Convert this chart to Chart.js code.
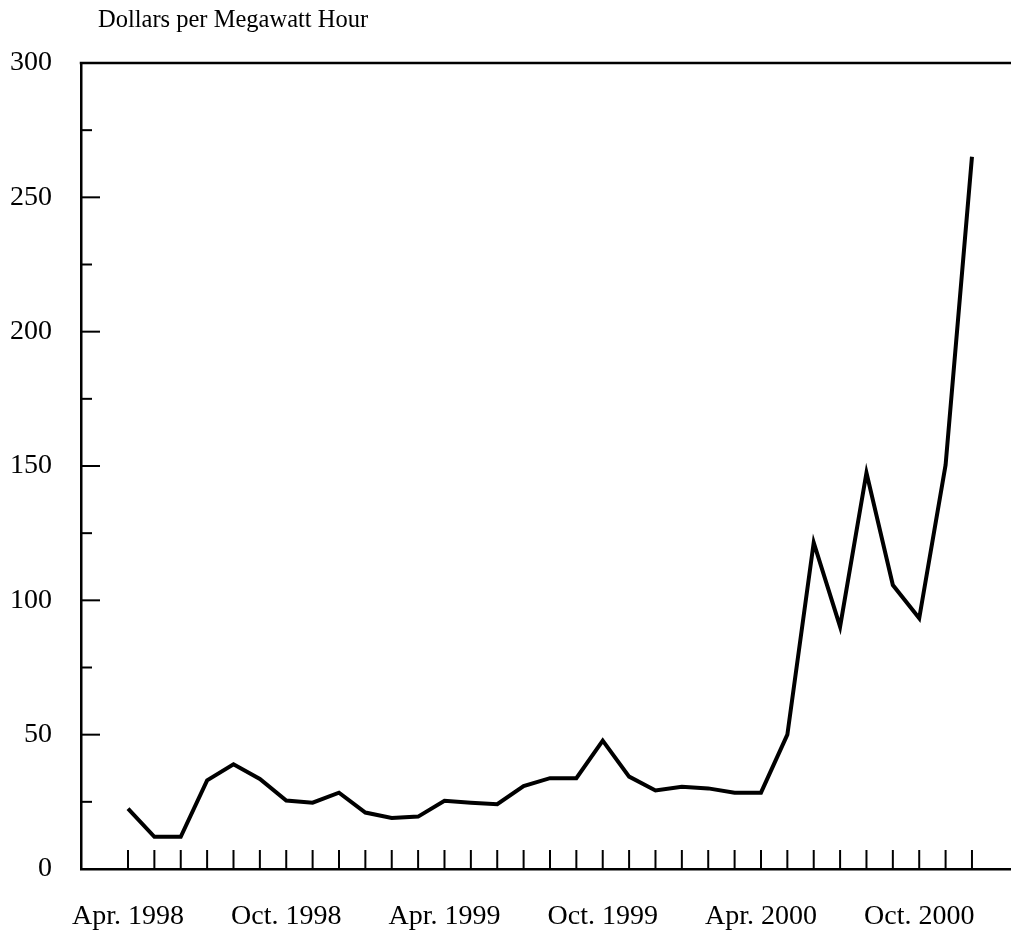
<!DOCTYPE html>
<html>
<head>
<meta charset="utf-8">
<script src="https://cdn.jsdelivr.net/npm/chart.js@4"></script>
<style>
  html, body { margin: 0; padding: 0; background: #ffffff; }
  #wrap { width: 1011px; height: 932px; position: relative; }
</style>
</head>
<body>
<div id="wrap"><canvas id="c"></canvas></div>
<script>
const months = [
  'Apr. 1998','May 1998','Jun. 1998','Jul. 1998','Aug. 1998','Sep. 1998','Oct. 1998','Nov. 1998','Dec. 1998',
  'Jan. 1999','Feb. 1999','Mar. 1999','Apr. 1999','May 1999','Jun. 1999','Jul. 1999','Aug. 1999','Sep. 1999','Oct. 1999','Nov. 1999','Dec. 1999',
  'Jan. 2000','Feb. 2000','Mar. 2000','Apr. 2000','May 2000','Jun. 2000','Jul. 2000','Aug. 2000','Sep. 2000','Oct. 2000','Nov. 2000','Dec. 2000'
];
const prices = [
  22.5, 12, 12, 33, 39, 33.5, 25.5, 24.7, 28.4,
  21, 19, 19.5, 25.4, 24.7, 24.1, 30.9, 33.8, 33.8, 47.8, 34.4, 29.2,
  30.6, 30, 28.4, 28.4, 50, 121.5, 90.2, 147.5, 105.7, 93.3, 150.4, 265.1
];
const xTickLabels = ['Apr. 1998', 'Oct. 1998', 'Apr. 1999', 'Oct. 1999', 'Apr. 2000', 'Oct. 2000'];
const yTickValues = [0, 25, 50, 75, 100, 125, 150, 175, 200, 225, 250, 275, 300];
const yLabelValues = [0, 50, 100, 150, 200, 250, 300];
const titleText = 'Dollars per Megawatt Hour';

const FONT = '"Liberation Serif", "Times New Roman", serif';

const framePlugin = {
  id: 'framePlugin',
  afterDraw(chart) {
    const ctx = chart.ctx;
    const a = chart.chartArea;
    const xs = chart.scales.x, ys = chart.scales.y;
    ctx.save();
    ctx.strokeStyle = '#000';
    ctx.lineCap = 'butt';
    // top frame line
    ctx.lineWidth = 2.5;
    ctx.beginPath();
    ctx.moveTo(a.left - 1.25, a.top);
    ctx.lineTo(a.right, a.top);
    ctx.stroke();
    // y ticks (inward)
    ctx.lineWidth = 2;
    yTickValues.forEach(v => {
      if (v === 0 || v === 300) return;
      const y = ys.getPixelForValue(v);
      const len = (yLabelValues.indexOf(v) >= 0) ? 19 : 11;
      ctx.beginPath();
      ctx.moveTo(a.left, y);
      ctx.lineTo(a.left + len, y);
      ctx.stroke();
    });
    // x ticks (upward)
    months.forEach((m, i) => {
      const x = xs.getPixelForValue(i);
      ctx.beginPath();
      ctx.moveTo(x, a.bottom);
      ctx.lineTo(x, a.bottom - 19);
      ctx.stroke();
    });
    // title
    ctx.fillStyle = '#000';
    ctx.font = '24.5px ' + FONT;
    ctx.textAlign = 'left';
    ctx.textBaseline = 'alphabetic';
    ctx.fillText(titleText, 98, 27);
    ctx.restore();
  }
};

new Chart(document.getElementById('c'), {
  type: 'line',
  data: {
    datasets: [{
      data: prices.map((v, i) => ({ x: i, y: v })),
      borderColor: '#000',
      borderWidth: 4,
      pointRadius: 0,
      tension: 0,
      fill: false
    }]
  },
  options: {
    responsive: true,
    maintainAspectRatio: false,
    animation: false,
    layout: { padding: { top: 63, left: 0, right: 0, bottom: 0 } },
    plugins: { legend: { display: false }, tooltip: { enabled: false }, title: { display: false } },
    scales: {
      x: {
        type: 'linear',
        min: -1.782,
        max: 33.48,
        afterBuildTicks(scale) { scale.ticks = months.map((m, i) => ({ value: i })); },
        afterFit(scale) { scale.height = 63; },
        grid: { display: true, drawOnChartArea: false, drawTicks: false },
        border: { display: true, color: '#000', width: 2.5 },
        ticks: {
          autoSkip: false,
          maxRotation: 0,
          padding: 31,
          color: '#000',
          font: { family: FONT, size: 28 },
          callback(value) {
            return (value % 6 === 0) ? xTickLabels[value / 6] : '';
          }
        }
      },
      y: {
        min: 0,
        max: 300,
        afterBuildTicks(scale) { scale.ticks = yTickValues.map(v => ({ value: v })); },
        afterFit(scale) { scale.width = 81; },
        grid: { display: true, drawOnChartArea: false, drawTicks: false },
        border: { display: true, color: '#000', width: 2.5 },
        ticks: {
          padding: 29,
          color: '#000',
          font: { family: FONT, size: 28 },
          callback(value) {
            return yLabelValues.indexOf(value) >= 0 ? String(value) : '';
          }
        }
      }
    }
  },
  plugins: [framePlugin]
});
</script>
</body>
</html>
